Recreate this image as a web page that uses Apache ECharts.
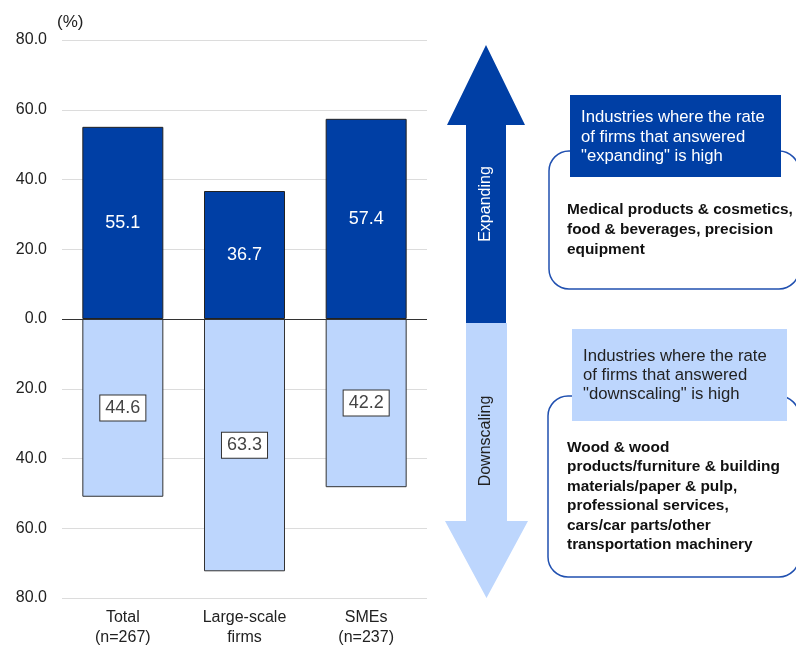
<!DOCTYPE html>
<html>
<head>
<meta charset="utf-8">
<script src="https://cdn.jsdelivr.net/npm/echarts@6/dist/echarts.min.js"></script>
<style>
  html, body { margin: 0; padding: 0; background: #fff; }
  #chart { width: 796px; height: 648px; }
</style>
</head>
<body>
<div id="chart"></div>
<script>
// Share of firms planning to expand / downscale (%)
const categories = ['Total\n(n=267)', 'Large-scale\nfirms', 'SMEs\n(n=237)'];
const expanding = [55.1, 36.7, 57.4];
const downscaling = [44.6, 63.3, 42.2];

const FONT = '"Liberation Sans", Arial, Helvetica, sans-serif';
const DARK = '#003fa5';
const LIGHT = '#bdd6fd';
const TEXT = '#222';

const chart = echarts.init(document.getElementById('chart'), null, { renderer: 'canvas' });

// annotation text helper
function txt(x, y, text, opts) {
  return {
    type: 'text', x: x, y: y, z: 20,
    rotation: opts.rotation || 0,
    style: {
      text: text,
      fill: opts.fill || TEXT,
      font: (opts.weight || 'normal') + ' ' + opts.size + 'px ' + FONT,
      lineHeight: opts.lineHeight || opts.size,
      align: opts.align || 'left',
      verticalAlign: opts.valign || 'top',
      textAlign: opts.align || 'left',
      textVerticalAlign: opts.valign || 'top'
    }
  };
}

const option = {
  animation: false,
  textStyle: { fontFamily: FONT },
  grid: { left: 62, right: 369, top: 40, bottom: 50, containLabel: false },
  xAxis: {
    type: 'category',
    data: categories,
    axisLine: { show: false },
    axisTick: { show: false },
    axisLabel: { color: TEXT, fontSize: 16, lineHeight: 20, margin: 10, interval: 0 },
    splitLine: { show: false }
  },
  yAxis: [
    {
      type: 'value', min: -80, max: 80, interval: 20,
      axisLine: { show: false },
      axisTick: { show: false },
      axisLabel: {
        color: TEXT, fontSize: 16, margin: 15,
        formatter: v => Math.abs(v).toFixed(1)
      },
      splitLine: { lineStyle: { color: '#dcdcdc', width: 1 } }
    },
    {
      // scale used by the downscaling bars
      type: 'value', min: -70, max: 70, show: false,
      splitLine: { show: false }
    }
  ],
  series: [
    {
      name: 'Expanding',
      type: 'bar',
      yAxisIndex: 0,
      data: expanding,
      barWidth: 81,
      barGap: '-100%',
      itemStyle: { color: DARK, borderColor: '#222', borderWidth: 1 },
      label: {
        show: true, position: 'inside', color: '#fff', fontSize: 18,
        formatter: p => p.value.toFixed(1)
      },
      markLine: {
        silent: true, symbol: 'none', z: 10,
        label: { show: false },
        lineStyle: { color: '#333', width: 1, type: 'solid' },
        data: [{ yAxis: 0 }]
      }
    },
    {
      name: 'Downscaling',
      type: 'bar',
      yAxisIndex: 1,
      data: downscaling.map(v => -v),
      barWidth: 81,
      barGap: '-100%',
      itemStyle: { color: LIGHT, borderColor: '#333', borderWidth: 1 },
      label: {
        show: true, position: 'inside', color: '#444', fontSize: 18,
        backgroundColor: '#fff', borderColor: '#333', borderWidth: 1,
        padding: [4, 5, 3, 5],
        formatter: p => Math.abs(p.value).toFixed(1)
      }
    }
  ],
  graphic: [
    txt(57, 13.5, '(%)', { size: 17 }),
    // up / down arrows
    {
      type: 'polygon', z: 5,
      shape: { points: [[466, 323], [466, 125], [447, 125], [486, 45], [525, 125], [506, 125], [506, 323]] },
      style: { fill: DARK }
    },
    {
      type: 'polygon', z: 5,
      shape: { points: [[466, 323], [466, 521], [445, 521], [486.5, 598], [528, 521], [507, 521], [507, 323]] },
      style: { fill: LIGHT }
    },
    txt(486, 204, 'Expanding', { size: 16, fill: '#fff', align: 'center', valign: 'middle', rotation: Math.PI / 2 }),
    txt(486, 441, 'Downscaling', { size: 16, fill: TEXT, align: 'center', valign: 'middle', rotation: Math.PI / 2 }),
    // rounded industry boxes
    {
      type: 'rect', z: 6,
      shape: { x: 549, y: 151, width: 250, height: 138, r: 20 },
      style: { fill: '#fff', stroke: '#2050b0', lineWidth: 1.5 }
    },
    {
      type: 'rect', z: 6,
      shape: { x: 548, y: 396, width: 251, height: 181, r: 20 },
      style: { fill: '#fff', stroke: '#2050b0', lineWidth: 1.5 }
    },
    // heading boxes
    {
      type: 'rect', z: 8,
      shape: { x: 570, y: 95, width: 211, height: 82 },
      style: { fill: DARK }
    },
    {
      type: 'rect', z: 8,
      shape: { x: 572, y: 329, width: 215, height: 92 },
      style: { fill: LIGHT }
    },
    txt(581, 108, 'Industries where the rate\nof firms that answered\n"expanding" is high', { size: 16.7, fill: '#fff', lineHeight: 19.5 }),
    txt(583, 347, 'Industries where the rate\nof firms that answered\n"downscaling" is high', { size: 16.7, fill: TEXT, lineHeight: 19 }),
    txt(567, 200, 'Medical products & cosmetics,\nfood & beverages, precision\nequipment', { size: 15.4, weight: 'bold', fill: '#111', lineHeight: 20 }),
    txt(567, 438, 'Wood & wood\nproducts/furniture & building\nmaterials/paper & pulp,\nprofessional services,\ncars/car parts/other\ntransportation machinery', { size: 15.4, weight: 'bold', fill: '#111', lineHeight: 19.4 })
  ]
};

chart.setOption(option);
</script>
</body>
</html>
